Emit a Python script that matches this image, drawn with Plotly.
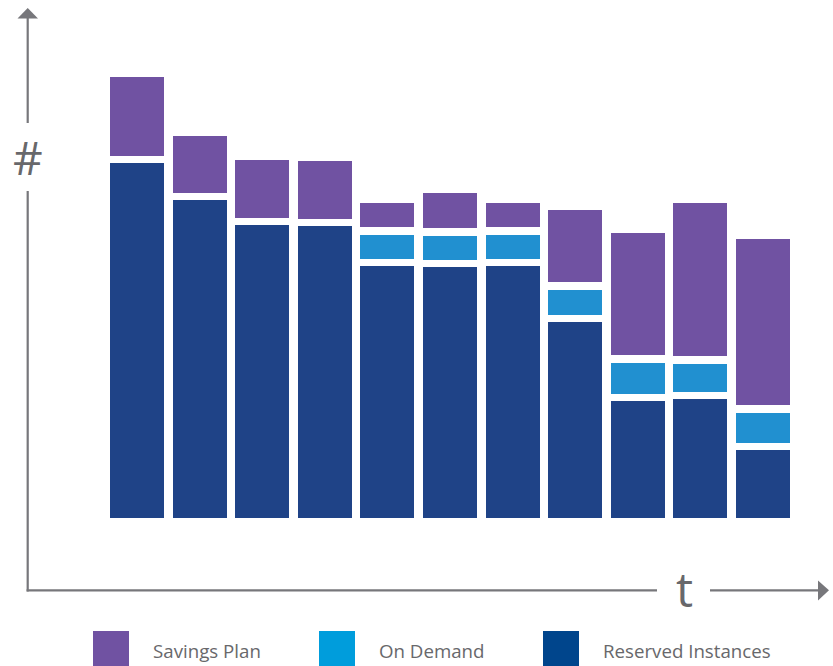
import plotly.graph_objects as go

W, H = 833, 666

periods = ["P1", "P2", "P3", "P4", "P5", "P6", "P7", "P8", "P9", "P10", "P11"]
reserved_instances = [36.25, 32.55, 30.05, 29.95, 25.95, 25.85, 25.95, 20.35, 12.45, 12.65, 7.55]
on_demand = [None, None, None, None, 3.15, 3.15, 3.15, 3.25, 3.85, 3.55, 3.75]
savings_plan = [8.65, 6.45, 6.55, 6.55, 3.15, 4.25, 3.15, 7.95, 12.95, 16.05, 17.4]

series_names = ["Savings Plan", "On Demand", "Reserved Instances"]
bar_colors = {"Savings Plan": "#7052a2", "On Demand": "#2190d0", "Reserved Instances": "#1f4387"}
legend_colors = {"Savings Plan": "#7052a2", "On Demand": "#009ddc", "Reserved Instances": "#00458c"}

AXIS_GREY = "#77777b"
TEXT_GREY = "#68686b"

fig = go.Figure()
for name, vals in [("Reserved Instances", reserved_instances),
                   ("On Demand", on_demand),
                   ("Savings Plan", savings_plan)]:
    fig.add_trace(go.Bar(
        x=periods, y=vals, name=name,
        marker=dict(color=bar_colors[name], line=dict(color="white", width=7.5)),
        hoverinfo="skip", showlegend=False,
    ))


def px(x, y):
    return x / W, 1 - y / H


shapes = []


def line(x0, y0, x1, y1, w=2.2):
    a, b = px(x0, y0)
    c, d = px(x1, y1)
    shapes.append(dict(type="line", xref="paper", yref="paper", x0=a, y0=b, x1=c, y1=d,
                       line=dict(color=AXIS_GREY, width=w)))


def tri(pts):
    p = [px(*q) for q in pts]
    path = "M {} {} L {} {} L {} {} Z".format(p[0][0], p[0][1], p[1][0], p[1][1], p[2][0], p[2][1])
    shapes.append(dict(type="path", xref="paper", yref="paper", path=path,
                       fillcolor=AXIS_GREY, line=dict(width=0)))


# y axis (broken by '#')
line(27.7, 17, 27.7, 123)
line(27.7, 191, 27.7, 591.4)
tri([(27.7, 8), (17.5, 18.5), (38, 18.5)])
# x axis (broken by 't')
line(26.6, 590.3, 657, 590.3)
line(710, 590.3, 819, 590.3)
tri([(829, 590.3), (818, 580.5), (818, 600.5)])

annotations = [
    dict(text="#", x=px(28, 157)[0], y=px(28, 157)[1], xref="paper", yref="paper",
         showarrow=False, font=dict(family="Open Sans", size=46, color=TEXT_GREY),
         xanchor="center", yanchor="middle"),
    dict(text="t", x=px(684, 588)[0], y=px(684, 588)[1], xref="paper", yref="paper",
         showarrow=False, font=dict(family="Open Sans", size=48, color=TEXT_GREY),
         xanchor="center", yanchor="middle"),
]

# custom legend
legend_pos = {"Savings Plan": (93, 151), "On Demand": (319, 377), "Reserved Instances": (543, 601)}
for name in series_names:
    sx, tx = legend_pos[name]
    a, b = px(sx, 631)
    c, d = px(sx + 36, 667)
    shapes.append(dict(type="rect", xref="paper", yref="paper", x0=a, y0=d, x1=c, y1=b,
                       fillcolor=legend_colors[name], line=dict(width=0)))
    ax, ay = px(tx, 650)
    annotations.append(dict(text=name, x=ax, y=ay, xref="paper", yref="paper", showarrow=False,
                            xanchor="left", yanchor="middle",
                            font=dict(family="Open Sans", size=18.7, color=TEXT_GREY)))

pitch = 62.6
x0 = -137 / pitch
fig.update_layout(
    width=W, height=H,
    margin=dict(l=0, r=0, t=0, b=0, pad=0),
    paper_bgcolor="white", plot_bgcolor="white",
    barmode="stack", bargap=1 - 61.5 / pitch,
    xaxis=dict(range=[x0, x0 + W / pitch], visible=False, fixedrange=True),
    yaxis=dict(range=[-14.425, -14.425 + H / 10], visible=False, fixedrange=True),
    shapes=shapes, annotations=annotations,
)

fig.write_html("out.html")
